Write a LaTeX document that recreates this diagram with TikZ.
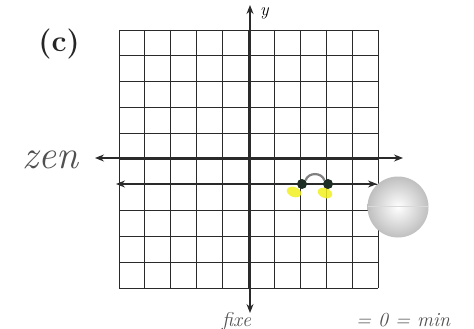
\documentclass[tikz,border=0pt]{standalone}
\usetikzlibrary{arrows.meta}
\definecolor{gridc}{HTML}{2A2A2A}
\definecolor{dotc}{HTML}{1E2E24}
\definecolor{hl}{HTML}{F2F020}
\definecolor{pencil}{HTML}{505050}
\tikzset{
  gridline/.style={gridc, line width=0.9pt},
  axisline/.style={gridc, line width=1.1pt},
  tip/.style={-{Stealth[length=9pt,width=7pt,inset=3pt]}},
  hand/.style={pencil},
  ptdot/.style={circle, fill=dotc, inner sep=0pt, minimum size=10pt},
}
\begin{document}
\begin{tikzpicture}[x=1pt,y=-1pt]
\useasboundingbox (0,0) rectangle (474,329);
\fill[white] (0,0) rectangle (474,329);
% grid
\foreach \i in {0,...,10} {
  \draw[gridline] ({119+25.9*\i},30) -- ({119+25.9*\i},288);
  \draw[gridline] (119,{30+25.8*\i}) -- (378,{30+25.8*\i});
}
% axes
\coordinate (ytop) at (250,5);
\coordinate (ybot) at (250,313);
\coordinate (xl) at (95,158);
\coordinate (xr) at (403,158);
\coordinate (ll) at (116,184);
\coordinate (lr) at (377,184);
\draw[axisline, tip] (250,158) -- (ytop);
\draw[axisline, tip] (250,158) -- (ybot);
\draw[axisline, tip] (250,158) -- (xl);
\draw[axisline, tip] (250,158) -- (xr);
\draw[axisline, tip] (250,184) -- (ll);
\draw[axisline, tip] (250,184) -- (lr);
\node[font=\fontsize{18}{18}\selectfont\itshape, anchor=west, inner sep=0pt] (ylab) at (260,13) {y};
% highlights and dots
\fill[hl, opacity=0.85, rotate around={-20:(294,192)}] (294,192) ellipse (7.5pt and 5pt);
\fill[hl, opacity=0.85, rotate around={-20:(325,193)}] (325,193) ellipse (7.5pt and 5pt);
\node[ptdot] (p1) at (302,184) {};
\node[ptdot] (p2) at (328,184) {};
\draw[gray, line width=2.2pt] (p1.north east) .. controls (308,172) and (322,172) .. (p2.north west);
% sphere
\shade[inner color=white, outer color=gray!50] (398,207) circle (30.5pt);
\draw[gray!30, line width=0.6pt] (368,206) -- (428,206);
% handwriting
\node[hand, text=black!85, font=\fontsize{30}{30}\selectfont\bfseries] (c) at (59,44) {(c)};
\node[hand, font=\fontsize{40}{40}\selectfont\itshape] (zen) at (50,160) {zen};
\node[hand, font=\fontsize{20}{20}\selectfont\itshape, anchor=base west, inner sep=0pt] (fixe) at (222,326) {fixe};
\node[hand, font=\fontsize{20}{20}\selectfont\itshape, anchor=base west, inner sep=0pt] (eq) at (356,326) {= 0 = min};
\end{tikzpicture}
\end{document}
